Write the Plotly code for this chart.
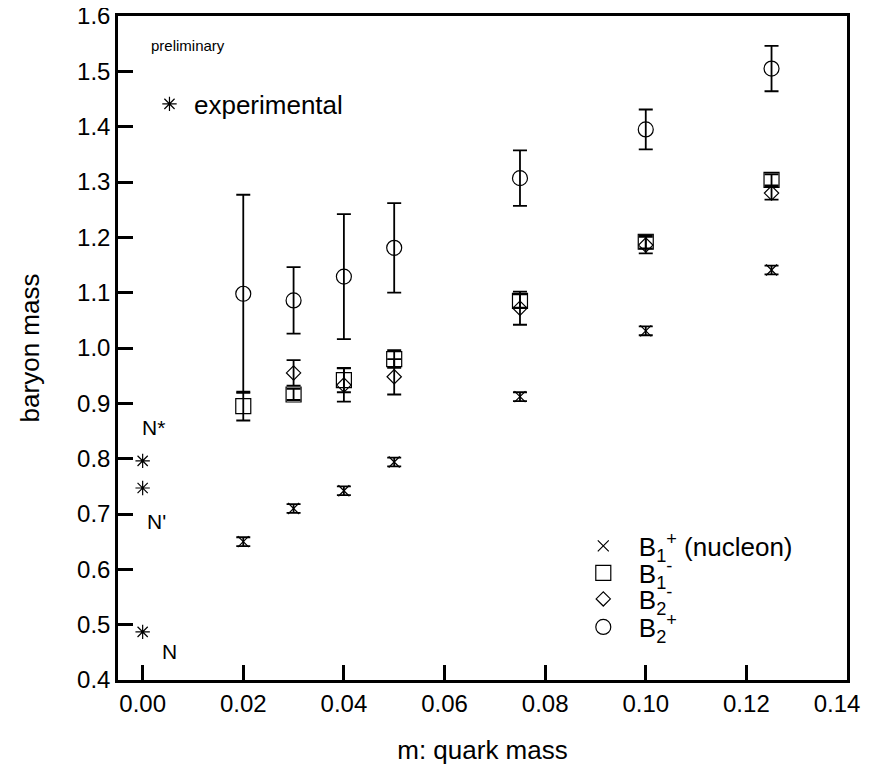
import plotly.graph_objects as go

# quark masses
m_lat = [0.02, 0.03, 0.04, 0.05, 0.075, 0.10, 0.125]

# B1+ (nucleon)
b1p = [0.650, 0.710, 0.742, 0.794, 0.912, 1.031, 1.141]
b1p_err = [0.008, 0.008, 0.008, 0.008, 0.008, 0.008, 0.008]

# B1-
b1m = [0.895, 0.916, 0.942, 0.980, 1.085, 1.192, 1.304]
b1m_err = [0.026, 0.010, 0.022, 0.016, 0.012, 0.012, 0.010]

# B2-  (no point at 0.02)
m_b2m = [0.03, 0.04, 0.05, 0.075, 0.10, 0.125]
b2m = [0.955, 0.933, 0.948, 1.072, 1.186, 1.280]
b2m_err = [0.023, 0.030, 0.032, 0.030, 0.015, 0.012]

# B2+
b2p = [1.098, 1.086, 1.129, 1.181, 1.307, 1.395, 1.505]
b2p_err = [0.179, 0.060, 0.113, 0.081, 0.050, 0.036, 0.041]

# experimental (scaled) values
exp_m = [0.0, 0.0, 0.0]
exp_vals = [0.487, 0.747, 0.796]
exp_labels = ["N", "N'", "N*"]

x_ticks = [0, 0.02, 0.04, 0.06, 0.08, 0.10, 0.12, 0.14]
x_ticktext = ["0.00", "0.02", "0.04", "0.06", "0.08", "0.10", "0.12",
              "0.14\u00a0\u00a0\u00a0"]
y_ticks = [0.4, 0.5, 0.6, 0.7, 0.8, 0.9, 1.0, 1.1, 1.2, 1.3, 1.4, 1.5, 1.6]
y_ticktext = ["0.4", "0.5", "0.6", "0.7", "0.8", "0.9", "1.0", "1.1", "1.2", "1.3", "1.4", "1.5", "1.6"]

FONT = "Liberation Sans, Arial, sans-serif"
BLACK = "black"

fig = go.Figure()

def err(arr):
    return dict(type="data", array=arr, visible=True, color=BLACK,
                thickness=1.8, width=7)

fig.add_trace(go.Scatter(
    x=m_lat, y=b1p, mode="markers", error_y=err(b1p_err),
    name="B<sub>1</sub><sup>+</sup> (nucleon)",
    marker=dict(symbol="x-thin-open", size=11, color=BLACK,
                line=dict(color=BLACK, width=1.2)),
    legend="legend", showlegend=True))
fig.add_trace(go.Scatter(
    x=m_lat, y=b1m, mode="markers", error_y=err(b1m_err),
    name="B<sub>1</sub><sup>-</sup>",
    marker=dict(symbol="square-open", size=15, color=BLACK,
                line=dict(color=BLACK, width=1.2)),
    legend="legend3", showlegend=True))
fig.add_trace(go.Scatter(
    x=m_b2m, y=b2m, mode="markers", error_y=err(b2m_err),
    name="B<sub>2</sub><sup>-</sup>",
    marker=dict(symbol="diamond-open", size=11, color=BLACK,
                line=dict(color=BLACK, width=1.2)),
    legend="legend4", showlegend=True))
fig.add_trace(go.Scatter(
    x=m_lat, y=b2p, mode="markers", error_y=err(b2p_err),
    name="B<sub>2</sub><sup>+</sup>",
    marker=dict(symbol="circle-open", size=15, color=BLACK,
                line=dict(color=BLACK, width=1.2)),
    legend="legend5", showlegend=True))
fig.add_trace(go.Scatter(
    x=exp_m, y=exp_vals, mode="markers",
    name="experimental",
    marker=dict(symbol="asterisk-open", size=12, color=BLACK,
                line=dict(color=BLACK, width=1.2)),
    legend="legend2", showlegend=True))

# labels for experimental states
label_pos = {"N": (0.0035, -0.035), "N'": (0.0005, -0.060), "N*": (-0.0005, 0.061)}
for lab, yv in zip(exp_labels, exp_vals):
    dx, dy = label_pos[lab]
    fig.add_annotation(x=dx, y=yv + dy, text=lab, showarrow=False,
                       xanchor="left", yanchor="middle",
                       font=dict(family=FONT, size=21, color=BLACK))

fig.add_annotation(xref="paper", yref="paper", x=0.043, y=0.956,
                   text="preliminary", showarrow=False,
                   xanchor="left", yanchor="middle",
                   font=dict(family=FONT, size=15, color=BLACK))

axis_common = dict(showline=True, linecolor=BLACK, linewidth=2.5, mirror=True,
                   ticks="inside", ticklen=15, tickwidth=2.5, tickcolor=BLACK,
                   showgrid=False, zeroline=False, automargin=False,
                   ticklabeloverflow="allow",
                   tickfont=dict(family=FONT, size=24, color=BLACK))

fig.update_xaxes(range=[-0.0049, 0.14], tickvals=x_ticks, ticktext=x_ticktext,
                 title=dict(text="m: quark mass", standoff=26,
                            font=dict(family=FONT, size=26, color=BLACK)),
                 **axis_common)
fig.update_yaxes(range=[0.4, 1.6], tickvals=y_ticks, ticktext=y_ticktext,
                 ticklabelstandoff=0,
                 title=dict(text="baryon mass", standoff=30,
                            font=dict(family=FONT, size=26, color=BLACK)),
                 **axis_common)

def leg(x, y, w):
    return dict(x=x, y=y, xanchor="left", yanchor="middle",
                bgcolor="rgba(0,0,0,0)", borderwidth=0,
                font=dict(family=FONT, size=26, color=BLACK),
                itemwidth=w, tracegroupgap=0, visible=True)

LX = 0.617
fig.update_layout(
    width=858, height=760,
    margin=dict(l=110, r=19, t=8, b=88),
    paper_bgcolor="white", plot_bgcolor="white",
    font=dict(family=FONT, color=BLACK),
    showlegend=True,
    legend=leg(LX, 0.2018, 61),
    legend3=leg(LX, 0.1611, 61),
    legend4=leg(LX, 0.1220, 61),
    legend5=leg(LX, 0.0798, 61),
    legend2=leg(0.037, 0.8675, 39),
)

fig.write_html("out.html")
